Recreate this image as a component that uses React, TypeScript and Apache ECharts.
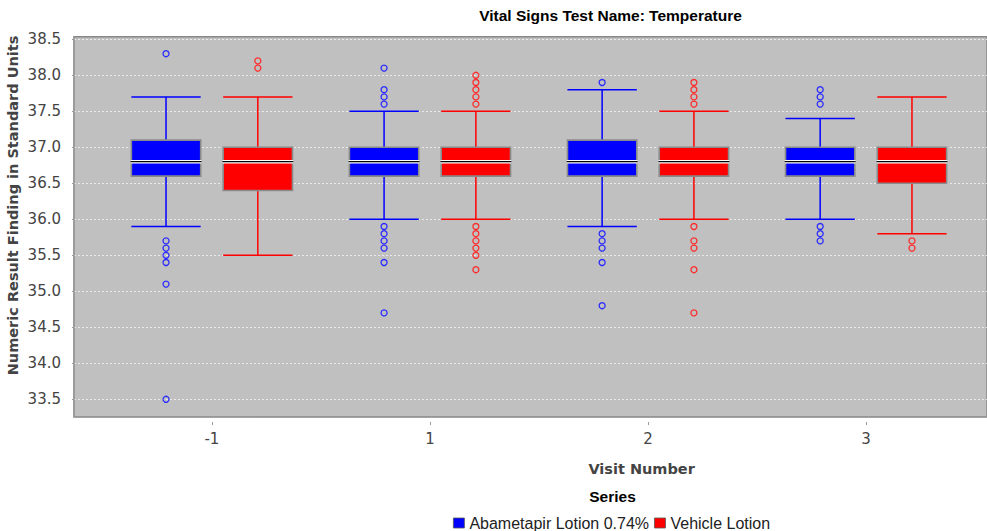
import React, { useEffect, useRef } from 'react';
import * as echarts from 'echarts';

// ---------- data ----------
const visits = ['-1', '1', '2', '3'];
const seriesNames = ['Abametapir Lotion 0.74%', 'Vehicle Lotion'];

// [lower whisker, Q1, median, Q3, upper whisker] per visit
const abametapirBoxes = [
  [35.9, 36.6, 36.8, 37.1, 37.7],
  [36.0, 36.6, 36.8, 37.0, 37.5],
  [35.9, 36.6, 36.8, 37.1, 37.8],
  [36.0, 36.6, 36.8, 37.0, 37.4],
];
const vehicleBoxes = [
  [35.5, 36.4, 36.8, 37.0, 37.7],
  [36.0, 36.6, 36.8, 37.0, 37.5],
  [36.0, 36.6, 36.8, 37.0, 37.5],
  [35.8, 36.5, 36.8, 37.0, 37.7],
];
// outliers per visit
const abametapirOutliers = [
  [38.3, 35.7, 35.6, 35.5, 35.4, 35.1, 33.5],
  [38.1, 37.8, 37.7, 37.6, 35.9, 35.8, 35.7, 35.6, 35.4, 34.7],
  [37.9, 35.8, 35.7, 35.6, 35.4, 34.8],
  [37.8, 37.7, 37.6, 35.9, 35.8, 35.7],
];
const vehicleOutliers = [
  [38.2, 38.1],
  [38.0, 37.9, 37.8, 37.7, 37.6, 35.9, 35.8, 35.7, 35.6, 35.5, 35.3],
  [37.9, 37.8, 37.7, 37.6, 35.9, 35.7, 35.6, 35.3, 34.7],
  [35.7, 35.6],
];
const yMin = 33.5;
const yMax = 38.5;
const yStep = 0.5;

// ---------- styling / layout ----------
const BLUE = '#0000ff';
const RED = '#ff0000';
const OFFSET_FRAC = 0.2105; // box centre offset as a fraction of the category band
const BOX_FRAC = 0.318; // box width as a fraction of the category band

const PLOT_LEFT = 74;
const PLOT_TOP = 36.7;
const PLOT_H = 380;
const VAL_TOP = 39.3;
const VAL_H = 360;
const DATA_LEFT = 102.9;
const DATA_W = 872.2;
const W = 987;
const H = 531;

const boxRender = (dir: number, fill: string, line: string) => (params: any, api: any) => {
  const idx = api.value(0);
  const band = api.size([1, 0])[0];
  const cx = api.coord([idx, api.value(3)])[0] + dir * band * OFFSET_FRAC;
  const half = (band * BOX_FRAC) / 2;
  const yLo = api.coord([idx, api.value(1)])[1];
  const yQ1 = api.coord([idx, api.value(2)])[1];
  const yMed = api.coord([idx, api.value(3)])[1];
  const yQ3 = api.coord([idx, api.value(4)])[1];
  const yHi = api.coord([idx, api.value(5)])[1];
  const ls = { stroke: line, lineWidth: 1.5 };
  return {
    type: 'group',
    children: [
      { type: 'line', shape: { x1: cx, y1: yQ3, x2: cx, y2: yHi }, style: ls },
      { type: 'line', shape: { x1: cx, y1: yQ1, x2: cx, y2: yLo }, style: ls },
      { type: 'line', shape: { x1: cx - half, y1: yHi, x2: cx + half, y2: yHi }, style: ls },
      { type: 'line', shape: { x1: cx - half, y1: yLo, x2: cx + half, y2: yLo }, style: ls },
      {
        type: 'rect',
        shape: { x: cx - half, y: yQ3, width: half * 2, height: yQ1 - yQ3 },
        style: { fill, stroke: '#8a8a8a', lineWidth: 1.6 },
      },
      {
        type: 'rect',
        shape: { x: cx - half - 0.8, y: yMed - 1.8, width: half * 2 + 1.6, height: 3.6 },
        style: { fill: '#ffffff' },
      },
      {
        type: 'line',
        shape: { x1: cx - half - 0.8, y1: yMed, x2: cx + half + 0.8, y2: yMed },
        style: { stroke: '#000000', lineWidth: 1.2 },
      },
    ],
  };
};

const outlierRender = (dir: number, color: string) => (params: any, api: any) => {
  const idx = api.value(0);
  const band = api.size([1, 0])[0];
  const p = api.coord([idx, api.value(1)]);
  return {
    type: 'circle',
    shape: { cx: p[0] + dir * band * OFFSET_FRAC, cy: p[1], r: 3 },
    style: { fill: 'none', stroke: color, lineWidth: 1.3 },
  };
};

const toBoxData = (boxes: number[][]) => boxes.map((b, i) => [i, ...b]);
const toOutlierData = (out: number[][]) => {
  const res: number[][] = [];
  out.forEach((list, i) => list.forEach((v) => res.push([i, v])));
  return res;
};

export default function App() {
  const ref = useRef<HTMLDivElement>(null);
  useEffect(() => {
    if (!ref.current) return;
    const chart = echarts.init(ref.current, undefined, { renderer: 'svg' });
    const option: any = {
      animation: false,
      backgroundColor: '#ffffff',
      grid: [
        {
          left: PLOT_LEFT, top: PLOT_TOP, right: -6, height: PLOT_H,
          show: true, backgroundColor: '#c0c0c0', borderColor: '#888888', borderWidth: 1.5,
        },
        { left: PLOT_LEFT, top: VAL_TOP, right: -6, height: VAL_H },
        { left: DATA_LEFT, top: VAL_TOP, width: DATA_W, height: VAL_H },
      ],
      xAxis: [
        {
          gridIndex: 0, type: 'value', min: 0, max: 1, offset: 5,
          axisLine: { show: true, lineStyle: { color: '#9a9a9a', width: 1.5 } },
          axisTick: { show: false }, axisLabel: { show: false }, splitLine: { show: false },
        },
        { gridIndex: 1, type: 'value', min: 0, max: 1, show: false },
        {
          gridIndex: 2, type: 'category', data: visits, boundaryGap: true, offset: 22.7,
          axisLine: { show: false },
          axisTick: { show: true, alignWithLabel: true, length: 3, lineStyle: { color: '#9a9a9a' } },
          axisLabel: { fontFamily: 'DejaVu Sans', fontSize: 15, color: '#444444', margin: 9 },
          splitLine: { show: false },
        },
      ],
      yAxis: [
        {
          gridIndex: 0, type: 'value', min: 0, max: 1, offset: 5,
          axisLine: { show: true, lineStyle: { color: '#9a9a9a', width: 1.5 } },
          axisTick: { show: false }, axisLabel: { show: false }, splitLine: { show: false },
        },
        {
          gridIndex: 1, type: 'value', min: yMin, max: yMax, interval: yStep, offset: 5,
          axisLine: { show: false },
          axisTick: { show: true, length: 2, lineStyle: { color: '#9a9a9a' } },
          axisLabel: {
            fontFamily: 'DejaVu Sans', fontSize: 15, color: '#444444', margin: 8,
            formatter: (v: number) => v.toFixed(1),
          },
          splitLine: { show: true, lineStyle: { color: '#eaeaea', width: 1, type: [2, 2] } },
        },
        { gridIndex: 2, type: 'value', min: yMin, max: yMax, show: false },
      ],
      legend: {
        left: 453, top: 515, padding: 0, itemWidth: 11, itemHeight: 10, itemGap: 5,
        textStyle: { fontFamily: 'Liberation Sans', fontSize: 16, color: '#222222' },
        data: [
          { name: seriesNames[0], icon: 'rect', itemStyle: { color: BLUE, borderColor: '#555555', borderWidth: 0.8 } },
          { name: seriesNames[1], icon: 'rect', itemStyle: { color: RED, borderColor: '#555555', borderWidth: 0.8 } },
        ],
      },
      graphic: [
        {
          type: 'text', x: 610.5, y: 15.5,
          style: {
            text: 'Vital Signs Test Name: Temperature', fontFamily: 'Liberation Sans', fontWeight: 'bold',
            fontSize: 15.5, fill: '#000000', align: 'center', verticalAlign: 'middle',
          },
        },
        {
          type: 'text', x: 641.6, y: 468.8,
          style: {
            text: 'Visit Number', fontFamily: 'DejaVu Sans', fontWeight: 'bold',
            fontSize: 14.5, fill: '#444444', align: 'center', verticalAlign: 'middle',
          },
        },
        {
          type: 'text', x: 12.5, y: 205.5, rotation: Math.PI / 2,
          style: {
            text: 'Numeric Result Finding in Standard Units', fontFamily: 'DejaVu Sans', fontWeight: 'bold',
            fontSize: 14.5, fill: '#444444', align: 'center', verticalAlign: 'middle',
          },
        },
        {
          type: 'text', x: 612.5, y: 496.5,
          style: {
            text: 'Series', fontFamily: 'Liberation Sans', fontWeight: 'bold',
            fontSize: 15.5, fill: '#000000', align: 'center', verticalAlign: 'middle',
          },
        },
      ],
      series: [
        {
          name: seriesNames[0], type: 'custom', xAxisIndex: 2, yAxisIndex: 2,
          itemStyle: { color: BLUE }, encode: { x: 0, y: [1, 2, 3, 4, 5] },
          renderItem: boxRender(-1, BLUE, BLUE), data: toBoxData(abametapirBoxes),
        },
        {
          name: seriesNames[1], type: 'custom', xAxisIndex: 2, yAxisIndex: 2,
          itemStyle: { color: RED }, encode: { x: 0, y: [1, 2, 3, 4, 5] },
          renderItem: boxRender(1, RED, RED), data: toBoxData(vehicleBoxes),
        },
        {
          name: seriesNames[0], type: 'custom', xAxisIndex: 2, yAxisIndex: 2,
          itemStyle: { color: BLUE }, encode: { x: 0, y: 1 },
          renderItem: outlierRender(-1, '#2a2aff'), data: toOutlierData(abametapirOutliers),
        },
        {
          name: seriesNames[1], type: 'custom', xAxisIndex: 2, yAxisIndex: 2,
          itemStyle: { color: RED }, encode: { x: 0, y: 1 },
          renderItem: outlierRender(1, '#ff2a2a'), data: toOutlierData(vehicleOutliers),
        },
      ],
    };
    chart.setOption(option);
    return () => chart.dispose();
  }, []);
  return (
    <div
      ref={ref}
      style={{ position: 'fixed', left: 0, top: 0, width: W, height: H }}
    />
  );
}
